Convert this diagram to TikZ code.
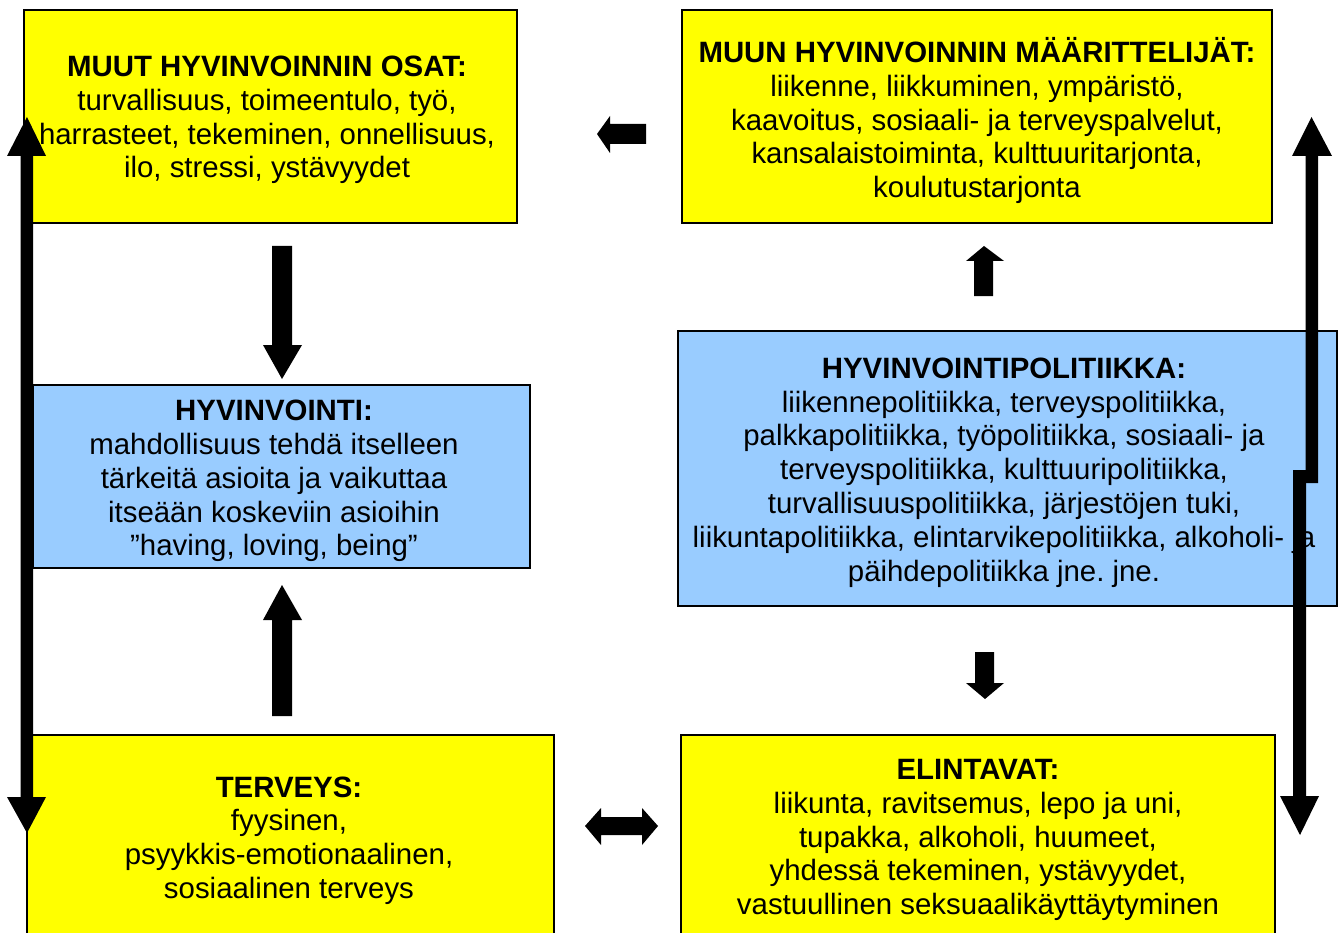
\documentclass[tikz,border=0pt]{standalone}
\usepackage{fontspec}
\setmainfont{Liberation Sans}
\frenchspacing
\definecolor{boxyellow}{HTML}{FFFF00}
\definecolor{boxblue}{HTML}{99CCFF}
\tikzset{
  ybox/.style={draw=black, line width=1.2pt, fill=boxyellow, inner sep=0pt, rectangle},
  bbox/.style={draw=black, line width=1.2pt, fill=boxblue, inner sep=0pt, rectangle},
  txt/.style={align=center, inner sep=0pt, font=\fontsize{29.4}{33.8}\selectfont\frenchspacing},
  blk/.style={fill=black, draw=none},
}
\begin{document}
\begin{tikzpicture}[x=1pt,y=-1pt]
\useasboundingbox (0,0) rectangle (1338,933);
% boxes
\node[ybox, minimum width=493pt, minimum height=213pt] (muut) at (270.5,116.5) {};
\node[ybox, minimum width=590pt, minimum height=213pt] (maar) at (977,116.5) {};
\node[bbox, minimum width=497pt, minimum height=183pt] (hyv) at (281.5,476.5) {};
\node[bbox, minimum width=659pt, minimum height=275pt] (pol) at (1007.5,468.5) {};
\node[ybox, minimum width=527pt, minimum height=205pt] (terv) at (290.5,837.5) {};
\node[ybox, minimum width=594pt, minimum height=205pt] (elin) at (978,837.5) {};
% texts
\node[txt] (tmuut) at (267,120) {\textbf{MUUT HYVINVOINNIN OSAT:}\\turvallisuus, toimeentulo, työ,\\harrasteet, tekeminen, onnellisuus,\\ilo, stressi, ystävyydet};
\node[txt] (tmaar) at (977,120.5) {\textbf{MUUN HYVINVOINNIN MÄÄRITTELIJÄT:}\\liikenne, liikkuminen, ympäristö,\\kaavoitus, sosiaali- ja terveyspalvelut,\\kansalaistoiminta, kulttuuritarjonta,\\koulutustarjonta};
\node[txt] (thyv) at (274,481) {\textbf{HYVINVOINTI:}\\mahdollisuus tehdä itselleen\\tärkeitä asioita ja vaikuttaa\\itseään koskeviin asioihin\\”having, loving, being”};
\node[txt] (tpol) at (1004,472.5) {\textbf{HYVINVOINTIPOLITIIKKA:}\\liikennepolitiikka, terveyspolitiikka,\\palkkapolitiikka, työpolitiikka, sosiaali- ja\\terveyspolitiikka, kulttuuripolitiikka,\\turvallisuuspolitiikka, järjestöjen tuki,\\liikuntapolitiikka, elintarvikepolitiikka, alkoholi- ja\\päihdepolitiikka jne. jne.};
\node[txt] (tterv) at (289,840.5) {\textbf{TERVEYS:}\\fyysinen,\\psyykkis-emotionaalinen,\\sosiaalinen terveys};
\node[txt] (telin) at (978,840) {\textbf{ELINTAVAT:}\\liikunta, ravitsemus, lepo ja uni,\\tupakka, alkoholi, huumeet,\\yhdessä tekeminen, ystävyydet,\\vastuullinen seksuaalikäyttäytyminen};
% block arrows
% muut -> hyv (down)
\fill[blk] (272,246) -- (292,246) -- (292,345) -- (302,345) -- (282,379) -- (263,345) -- (272,345) -- cycle;
% terv -> hyv (up)
\fill[blk] (272,716) -- (292,716) -- (292,620) -- (302,620) -- (282,585) -- (263,620) -- (272,620) -- cycle;
% pol -> maar (up)
\fill[blk] (974,296) -- (993,296) -- (993,261) -- (1004,261) -- (984,246) -- (966,261) -- (974,261) -- cycle;
% pol -> elin (down)
\fill[blk] (975,652) -- (994,652) -- (994,683) -- (1004,683) -- (985,699) -- (966,683) -- (975,683) -- cycle;
% maar -> muut (left)
\fill[blk] (646,124) -- (646,144) -- (610,144) -- (610,153) -- (597,134) -- (610,116) -- (610,124) -- cycle;
% terv <-> elin (double)
\fill[blk] (585,826) -- (601,808) -- (601,817) -- (642,817) -- (642,808) -- (658,826) -- (642,845) -- (642,835) -- (601,835) -- (601,845) -- cycle;
% left long double arrow
\fill[blk] (27,117) -- (46,156) -- (33,156) -- (33,797) -- (46,797) -- (27,833) -- (7,797) -- (20.5,797) -- (20.5,156) -- (7,156) -- cycle;
% right long double arrow (with jog)
\fill[blk] (1311.5,117) -- (1332,156) -- (1318,156) -- (1318,483) -- (1305.5,483) -- (1305.5,156) -- (1292,156) -- cycle;
\fill[blk] (1293,470) -- (1306,470) -- (1306,796) -- (1319,796) -- (1300,835) -- (1280,796) -- (1293,796) -- cycle;
\fill[blk] (1305,470) rectangle (1318,483);
\end{tikzpicture}
\end{document}
